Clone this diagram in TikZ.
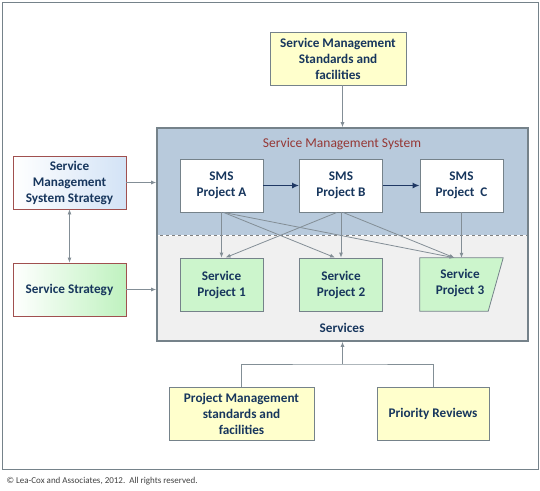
\documentclass[tikz,border=0pt]{standalone}
\usepackage{fontspec}
\setmainfont{Carlito}
\usepackage{tikz}
\usetikzlibrary{arrows.meta}
\definecolor{txtblue}{HTML}{17365D}
\definecolor{frmgrey}{HTML}{75828A}
\definecolor{smsblue}{HTML}{B8CADC}
\definecolor{svcgrey}{HTML}{F0F0F0}
\definecolor{stdyellow}{HTML}{FFFFCC}
\definecolor{svcgreen}{HTML}{CCF5CC}
\definecolor{stratred}{HTML}{A0504F}
\definecolor{stratblue}{HTML}{D3E3F6}
\definecolor{stratgreen}{HTML}{BFF2BF}
\definecolor{titlered}{HTML}{953735}
\definecolor{navy}{HTML}{1F3864}

\begin{document}
\begin{tikzpicture}[x=1pt, y=-1pt, font=\bfseries\fontsize{13.2}{16}\selectfont, text=txtblue,
    box/.style={draw=frmgrey, line width=0.8pt, align=center, inner sep=0pt},
    yellowbox/.style={box, fill=stdyellow, minimum height=53},
    smsbox/.style={box, fill=white, minimum width=83, minimum height=53},
    svcbox/.style={box, fill=svcgreen, minimum width=83, minimum height=53},
    stratbox/.style={box, draw=stratred, minimum width=113, minimum height=53},
    link/.style={draw=frmgrey!90, line width=0.8pt, -{Latex[length=5pt,width=4pt]}},
    flow/.style={draw=navy, line width=1.6pt, -{Latex[length=7pt,width=6pt]}}]
  \useasboundingbox (0,0) rectangle (540,490);
  % outer frame
  \draw[frmgrey, line width=1pt] (2,2) rectangle (538,469);
  % service management system
  \fill[smsblue] (157,128) rectangle (528,235);
  \fill[svcgrey] (157,235) rectangle (528,341);
  \draw[white, line width=0.8pt] (157,235) -- (528,235);
  \draw[gray, dash pattern=on 3pt off 3pt, dash phase=3pt, line width=0.6pt] (157,235) -- (528,235);
  \node[draw=frmgrey, line width=1.6pt, minimum width=371, minimum height=213, inner sep=0pt] (sms) at (342.5,234.5) {};
  \node[text=titlered, font=\fontsize{13.5}{14}\selectfont] (title) at (342,144) {Service Management\ System};
  \node (svc) at (342,328) {Services};

  \node[yellowbox, minimum width=136] (std) at (338,58.5) {Service Management\\Standards and\\facilities};

  \node[smsbox] (a) at (221.5,185.5) {SMS\\Project A};
  \node[smsbox] (b) at (341,185.5) {SMS\\Project B};
  \node[smsbox] (c) at (461.5,185.5) {SMS\\Project\ \ C};

  \node[svcbox] (p1) at (221.5,284.5) {Service\\Project 1};
  \node[svcbox] (p2) at (341,284.5) {Service\\Project 2};
  \node[minimum width=83, minimum height=53, inner sep=0pt, align=center] (p3) at (461.5,284.5) {};
  \draw[box, fill=svcgreen] (p3.north west) -- (p3.north east) -- ([xshift=-15]p3.south east) -- (p3.south west) -- cycle;
  \node[align=center] (p3text) at (460,283) {Service\\Project 3};

  \node[stratbox, left color=white, right color=stratblue] (smsstrat) at (69.5,182.5) {Service\\Management\\System Strategy};
  \node[stratbox, left color=white, right color=stratgreen] (sstrat) at (69.5,289.5) {Service Strategy};

  \node[yellowbox, minimum width=145] (pm) at (241.5,413.5) {Project Management\\standards and\\facilities};
  \node[yellowbox, minimum width=112] (pr) at (433,413.5) {Priority Reviews};
  \coordinate (join) at (342.5,364);

  \draw[flow] (a) -- (b);
  \draw[flow] (b) -- (c);
  \draw[link] (a.south) -- (p1.north);
  \draw[link] ([xshift=2]a.south) -- ([xshift=-6]p2.north);
  \draw[link] ([xshift=2]a.south) -- ([xshift=-7]p3.north);
  \draw[link] ([xshift=-4]b.south) -- ([xshift=4]p1.north);
  \draw[link] (b.south) -- (p2.north);
  \draw[link] ([xshift=2]b.south) -- ([xshift=-7]p3.north);
  \draw[link] (c.south) -- (p3.north);

  \draw[link] (std.south -| sms.north) -- (sms.north);
  \draw[link] (smsstrat.east) -- (smsstrat.east -| sms.west);
  \draw[link] (sstrat.east) -- (sstrat.east -| sms.west);
  \draw[link, {Latex[length=5pt,width=4pt]}-{Latex[length=5pt,width=4pt]}] (smsstrat.south) -- (sstrat.north);
  \draw[frmgrey!90, line width=0.8pt] (pm.north) |- (join) -| (pr.north);
  \draw[link] (join) -- (sms.south);

  \node[anchor=west, font=\fontsize{9}{10}\selectfont, text=black!75] (copy) at (3,481) {© Lea-Cox and Associates,\ 2012.\ \ All rights reserved.};
\end{tikzpicture}
\end{document}
